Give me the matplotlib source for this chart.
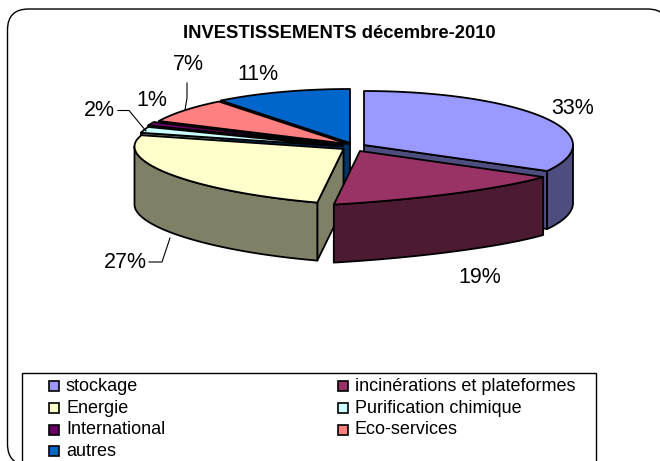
import numpy as np
import matplotlib
matplotlib.use("Agg")
import matplotlib.pyplot as plt
from matplotlib.patches import Polygon, Rectangle, FancyBboxPatch

plt.rcParams['font.family'] = ['Liberation Sans', 'DejaVu Sans']

title = "INVESTISSEMENTS décembre-2010"
categories = ["stockage", "incinérations et plateformes", "Energie", "Purification chimique",
              "International", "Eco-services", "autres"]
values = [33.0, 19.0, 27.1, 1.8, 1.1, 7.4, 10.6]
top_colors = ["#9999FF", "#993366", "#FFFFCC", "#CCFFFF", "#660066", "#FF8080", "#0066CC"]
side_colors = ["#4D4D80", "#4D1A33", "#808066", "#668080", "#330033", "#804040", "#003366"]

# layout (pixels)
APEX = {"stockage": (364, 145), "incinérations et plateformes": (360, 151), "Energie": (343.5, 149),
        "Purification chimique": (343, 146.5), "International": (343, 145),
        "Eco-services": (348, 144), "autres": (350, 143)}
BULGE = {"incinérations et plateformes": 0.45, "Energie": 0.85}
A, B, DEPTH = 209, 54, 58
BACK_WALLS = [5, 4, 3, 6]
BACK_TOPS = [6, 5, 4, 3]
FRONT = [0, 2, 1]

fig = plt.figure(figsize=(6.6, 4.61), dpi=100, facecolor="white")
ax = fig.add_axes([0, 0, 1, 1])
ax.set_xlim(0, 660)
ax.set_ylim(461, 0)
ax.axis("off")

ax.add_patch(FancyBboxPatch((7.5, 9), 661, 456, boxstyle="round,pad=0,rounding_size=21",
                            fc="white", ec="black", lw=1.0))

cum = np.concatenate([[0], np.cumsum(values)]) / np.sum(values) * 2 * np.pi


def rim(name, t, t0, t1):
    """Rim points of a slice, flattened towards the slice chord by its BULGE factor."""
    cx, cy = APEX[name]
    x = cx + A * np.sin(t)
    y = cy - B * np.cos(t)
    k = BULGE.get(name, 1.0)
    if k < 1.0:
        xa, ya = cx + A * np.sin(t0), cy - B * np.cos(t0)
        xb, yb = cx + A * np.sin(t1), cy - B * np.cos(t1)
        chord = ya + (yb - ya) * (x - xa) / (xb - xa)
        y = chord + k * (y - chord)
    return np.column_stack([x, y])


def draw_walls(i):
    name = categories[i]
    cx, cy = APEX[name]
    t0, t1 = cum[i], cum[i + 1]
    arc = rim(name, np.linspace(t0, t1, 80), t0, t1)
    kw = dict(fc=side_colors[i], ec="black", lw=1.3, joinstyle="round")
    # radial cut face that looks towards the viewer
    if t0 > np.pi:
        p = arc[0]
        ax.add_patch(Polygon([(cx, cy), p, p + (0, DEPTH), (cx, cy + DEPTH)], **kw))
    if t1 < np.pi:
        p = arc[-1]
        ax.add_patch(Polygon([(cx, cy), p, p + (0, DEPTH), (cx, cy + DEPTH)], **kw))
    # outer wall: front part of the rim only
    lo, hi = max(t0, np.pi / 2), min(t1, 3 * np.pi / 2)
    if hi > lo:
        w = rim(name, np.linspace(lo, hi, 80), t0, t1)
        ax.add_patch(Polygon(np.vstack([w, w[::-1] + (0, DEPTH)]), **kw))


def draw_top(i):
    name = categories[i]
    t0, t1 = cum[i], cum[i + 1]
    arc = rim(name, np.linspace(t0, t1, 80), t0, t1)
    ax.add_patch(Polygon(np.vstack([APEX[name], arc]), fc=top_colors[i], ec="black", lw=1.3,
                         joinstyle="round"))


for i in BACK_WALLS:
    draw_walls(i)
for i in BACK_TOPS:
    draw_top(i)
for i in FRONT:
    draw_walls(i)
    draw_top(i)

ax.text(339, 34, title, ha="center", va="center", fontsize=13.2, fontweight="bold")

label_pos = [(573, 108), (480, 277), (125, 262), (99, 110), (152, 100), (188, 65), (258, 74)]
for v, (x, y) in zip(values, label_pos):
    ax.text(x, y, f"{round(v)}%", ha="center", va="center", fontsize=15.5, color="black")

leader_lines = [[(149, 262), (162, 262), (170, 238)],
                [(118, 110.5), (129, 110.5), (146, 131)],
                [(187, 83), (187, 98), (185, 110)]]
for line in leader_lines:
    xs, ys = zip(*line)
    ax.plot(xs, ys, color="black", lw=0.8)

# legend
ax.add_patch(Rectangle((22, 372.5), 573.5, 95, fc="white", ec="black", lw=1.0))
cols = [49, 338]
leg_rows = [386, 408, 429.5, 451]
for k, (name, col) in enumerate(zip(categories, top_colors)):
    x = cols[k % 2]
    y = leg_rows[k // 2]
    ax.add_patch(Rectangle((x, y - 5), 10, 10, fc=col, ec="black", lw=1.2))
    ax.text(x + 17, y, name, ha="left", va="center", fontsize=13)

fig.savefig("out.png", dpi=100)
